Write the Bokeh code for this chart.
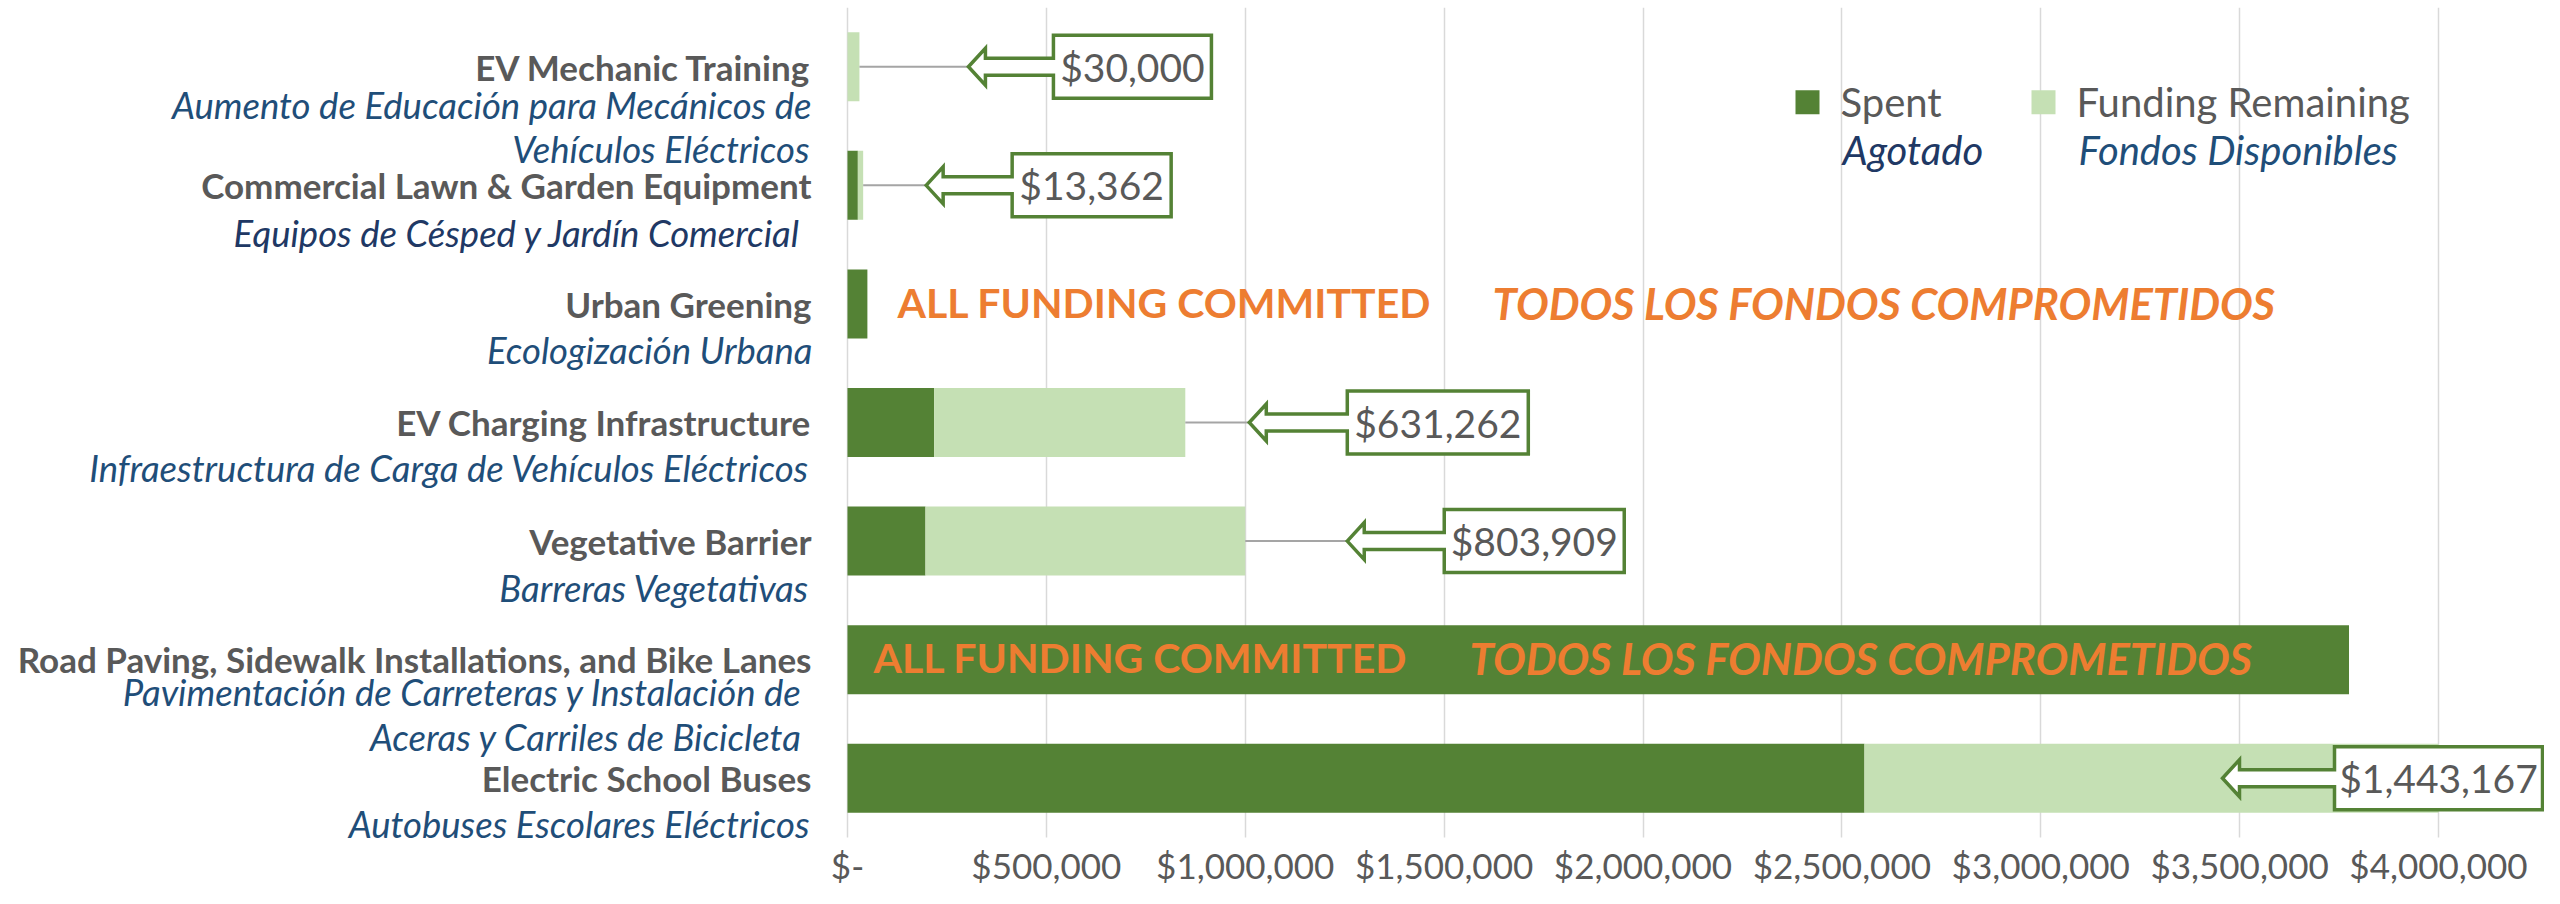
from bokeh.plotting import figure
from bokeh.models import Range1d, FixedTicker
from bokeh.core.properties import value
from bokeh.embed import file_html
from bokeh.resources import INLINE

# ---------------- data ----------------
categories_en = [
    "EV Mechanic Training",
    "Commercial Lawn & Garden Equipment",
    "Urban Greening",
    "EV Charging Infrastructure",
    "Vegetative Barrier",
    "Road Paving, Sidewalk Installations, and Bike Lanes",
    "Electric School Buses",
]
categories_es = [
    "Aumento de Educación para Mecánicos de\nVehículos Eléctricos",
    "Equipos de Césped y Jardín Comercial",
    "Ecologización Urbana",
    "Infraestructura de Carga de Vehículos Eléctricos",
    "Barreras Vegetativas",
    "Pavimentación de Carreteras y Instalación de\nAceras y Carriles de Bicicleta",
    "Autobuses Escolares Eléctricos",
]
spent = [0, 26000, 50000, 218000, 196091, 3775000, 2556833]
remaining = [30000, 13362, 0, 631262, 803909, 0, 1443167]
tick_values = [0, 500000, 1000000, 1500000, 2000000, 2500000, 3000000, 3500000, 4000000]
tick_labels = ["$-", "$500,000", "$1,000,000", "$1,500,000", "$2,000,000",
               "$2,500,000", "$3,000,000", "$3,500,000", "$4,000,000"]
series_en = ["Spent", "Funding Remaining"]
series_es = ["Agotado", "Fondos Disponibles"]
committed_en = "ALL FUNDING COMMITTED"
committed_es = "TODOS LOS FONDOS COMPROMETIDOS"

# ---------------- layout / style ----------------
W, H = 2544, 888
FRAME_TOP = 7          # px where the top of the category band starts
ZERO_Y_PX = 837        # px where the bottom of the category band ends
ZERO_PX = 847          # px where $0 sits
PX_PER_DOLLAR = 397.75 / 1e6
FONT = value("Lato")
DARK = "#548235"
LIGHT = "#C5E0B4"
GRAY = "#595959"
BLUE = "#1F4E79"
NAVY = "#203864"
ORANGE = "#ED7D31"

n = len(categories_en)
unit_px = (ZERO_Y_PX - FRAME_TOP) / n
px2x = 1.0 / PX_PER_DOLLAR
px2y = 1.0 / unit_px
x_start = -ZERO_PX * px2x
x_end = (W - ZERO_PX) * px2x
y_lo = -(H - ZERO_Y_PX) * px2y
ys = [n - 0.5 - i for i in range(n)]
totals = [s + r for s, r in zip(spent, remaining)]

p = figure(width=W, height=H, x_range=Range1d(x_start, x_end), y_range=Range1d(y_lo, n),
           y_axis_location=None, toolbar_location=None, output_backend="svg",
           min_border_left=0, min_border_right=0, min_border_top=FRAME_TOP,
           min_border_bottom=0)
p.outline_line_color = None
p.background_fill_color = "white"
p.border_fill_color = "white"

# axis & grid (axis pinned at y=0 inside the frame)
p.xaxis.fixed_location = 0
p.xaxis.ticker = FixedTicker(ticks=tick_values)
p.xaxis.major_label_overrides = {v: l for v, l in zip(tick_values, tick_labels)}
p.xaxis.axis_line_color = None
p.xaxis.major_tick_line_color = None
p.xaxis.minor_tick_line_color = None
p.xaxis.major_tick_out = 0
p.xaxis.major_tick_in = 0
p.xaxis.major_label_text_font = "Lato"
p.xaxis.major_label_text_font_size = "35px"
p.xaxis.major_label_text_color = GRAY
p.xaxis.major_label_standoff = 6
p.xgrid.grid_line_color = "#D9D9D9"
p.xgrid.grid_line_width = 1.5
p.ygrid.grid_line_color = None

# blank strip below the category band (hides grid under tick labels)
p.quad(left=[x_start], right=[x_end], bottom=[y_lo], top=[0], fill_color="white", line_color=None)

# bars
BAR_H = 0.582
p.hbar(y=ys, left=0, right=spent, height=BAR_H, fill_color=DARK, line_color=None)
p.hbar(y=ys, left=spent, right=totals, height=BAR_H, fill_color=LIGHT, line_color=None)

# category labels (English bold, Spanish italic)
en_dy = [0, 0, 0, -1, 0, -1, 0]
p.text(x=[0] * n, y=ys, text=categories_en, x_offset=[-36] * n, y_offset=en_dy,
       text_font=FONT, text_font_style="bold", text_font_size="35px", text_color=GRAY,
       text_align="right", text_baseline="middle")

es_dy = [[38, 82], [48], [46], [45], [47], [32, 77], [46]]
es_dx = [[-36, -38], [-46], [-35], [-38], [-38], [-45, -45], [-38]]
es_col = [BLUE, NAVY, BLUE, BLUE, BLUE, BLUE, BLUE]
ex, ey, et, edx, edy, ec = [], [], [], [], [], []
for i, s in enumerate(categories_es):
    for j, line in enumerate(s.split("\n")):
        ex.append(0); ey.append(ys[i]); et.append(line)
        edx.append(es_dx[i][j]); edy.append(es_dy[i][j]); ec.append(es_col[i])
p.text(x=ex, y=ey, text=et, x_offset=edx, y_offset=edy, text_color=ec,
       text_font=FONT, text_font_style="italic", text_font_size="36.5px",
       text_align="right", text_baseline="middle")

# "all funding committed" labels
committed_dx_en = {2: 50, 5: 26}
committed_dx_es = {2: 645, 5: 622}
committed_dy = {2: -1, 5: -2}
for i in range(n):
    if remaining[i] == 0:
        p.text(x=[0], y=[ys[i]], text=[committed_en], x_offset=committed_dx_en[i],
               y_offset=committed_dy[i], text_font=FONT, text_font_style="bold",
               text_font_size="41px", text_color=ORANGE, text_align="left",
               text_baseline="middle")
        p.text(x=[0], y=[ys[i]], text=[committed_es], x_offset=committed_dx_es[i],
               y_offset=committed_dy[i], text_font=FONT, text_font_style="bold italic",
               text_font_size="43.5px", text_color=ORANGE, text_align="left",
               text_baseline="middle")

# callouts with remaining amounts
tip_px = [109, 63, None, 64, 102, None, -216]
box_w_px = [158, 159, None, 181, 180, None, 208]
HL, HH, SH, BH = 17, 18.5, 8.5, 31.5
for i in range(n):
    if remaining[i] <= 0:
        continue
    tip_x = totals[i] + tip_px[i] * px2x
    yc = ys[i]
    BW = box_w_px[i]
    AL = round(BW * 0.54)
    # leader line
    p.segment(x0=[totals[i]], y0=[yc], x1=[tip_x], y1=[yc], line_color="#A5A5A5", line_width=2)
    pts = [(0, 0), (HL, HH), (HL, SH), (AL, SH), (AL, BH), (AL + BW, BH), (AL + BW, -BH),
           (AL, -BH), (AL, -SH), (HL, -SH), (HL, -HH)]
    xs = [tip_x + dx * px2x for dx, dy in pts]
    yv = [yc + dy * px2y for dx, dy in pts]
    p.patch(xs, yv, fill_color="white", line_color=DARK, line_width=3.5, line_join="miter")
    p.text(x=[tip_x + (AL + BW / 2) * px2x], y=[yc], text=[f"${remaining[i]:,.0f}"],
           text_font=FONT, text_font_size="39px", text_color=GRAY,
           text_align="center", text_baseline="middle")

# legend (manual, two-language)
leg_cx = [1807, 2043]
leg_cy = 101.7
leg_cols = [DARK, LIGHT]
es_leg_cols = [NAVY, BLUE]
for k in range(2):
    lx = x_start + leg_cx[k] * px2x
    ly = n - (leg_cy - FRAME_TOP) * px2y
    p.rect(x=[lx], y=[ly], width=24, height=24, width_units="screen", height_units="screen",
           fill_color=leg_cols[k], line_color=None)
    p.text(x=[lx], y=[ly], text=[series_en[k]], x_offset=33, y_offset=0,
           text_font=FONT, text_font_size="40px", text_color=GRAY,
           text_align="left", text_baseline="middle")
    p.text(x=[lx], y=[ly], text=[series_es[k]], x_offset=35, y_offset=48,
           text_font=FONT, text_font_style="italic", text_font_size="40px",
           text_color=es_leg_cols[k], text_align="left", text_baseline="middle")

open("out.html", "w").write(file_html(p, INLINE))
